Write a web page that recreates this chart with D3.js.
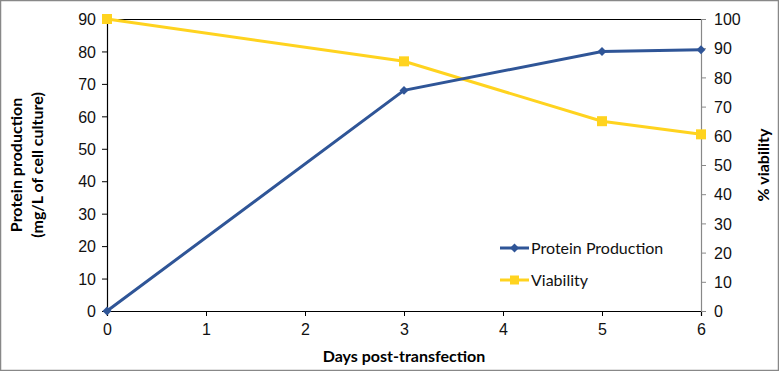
<!DOCTYPE html>
<html>
<head>
<meta charset="utf-8">
<script src="https://cdn.jsdelivr.net/npm/d3@7"></script>
<style>
  body { margin: 0; background: #fff; }
  svg { font-family: Lato, "Open Sans", sans-serif; }
  .tick text { font-size: 16px; fill: #111; }
</style>
</head>
<body>
<svg width="779" height="371"></svg>
<script>
const days = [0, 3, 5, 6];
const protein = [0, 68, 80, 80.5];
const viability = [100, 85.5, 65, 60.5];
const xTicks = [0, 1, 2, 3, 4, 5, 6];
const leftTicks = [0, 10, 20, 30, 40, 50, 60, 70, 80, 90];
const rightTicks = [0, 10, 20, 30, 40, 50, 60, 70, 80, 90, 100];

const svg = d3.select('svg');
const margin = { top: 19, left: 107, right: 78, bottom: 60 };
const width = +svg.attr('width') - margin.left - margin.right;
const height = +svg.attr('height') - margin.top - margin.bottom;

const blue = '#2F5597';
const yellow = '#FFD31F';

// outer border
svg.append('rect')
    .attr('x', 0.5).attr('y', 0.5)
    .attr('width', 778).attr('height', 370)
    .attr('fill', 'none').attr('stroke', '#888').attr('stroke-width', 1.5);

const g = svg.append('g').attr('transform', `translate(${margin.left}, ${margin.top})`);

const x = d3.scaleLinear().domain([0, 6]).range([0, width]);
const yL = d3.scaleLinear().domain([0, 90]).range([height, 0]);
const yR = d3.scaleLinear().domain([0, 100]).range([height, 0]);

// top border of plot area
g.append('line')
    .attr('x1', 0).attr('x2', width).attr('y1', 0.5).attr('y2', 0.5)
    .attr('stroke', '#000');

g.append('g')
    .attr('transform', `translate(0, ${height})`)
    .call(d3.axisBottom(x).tickValues(xTicks).tickFormat(d3.format('d')).tickSize(5).tickPadding(8))
    .call(a => a.selectAll('.domain, .tick line').attr('stroke', '#000'));

g.append('g')
    .call(d3.axisLeft(yL).tickValues(leftTicks).tickSize(5).tickPadding(6))
    .call(a => a.selectAll('.domain, .tick line').attr('stroke', '#000'))
    .call(a => a.selectAll('.tick text').attr('dy', '0.36em'));

g.append('g')
    .attr('transform', `translate(${width}, 0)`)
    .call(d3.axisRight(yR).tickValues(rightTicks).tickSize(5).tickPadding(8))
    .call(a => a.selectAll('.domain, .tick line').attr('stroke', '#888'))
    .call(a => a.selectAll('.tick text').attr('dy', '0.36em'));

g.selectAll('.domain').attr('stroke-width', 1.2);

// axis titles
svg.append('text')
    .attr('x', margin.left + width / 2).attr('y', 362)
    .attr('text-anchor', 'middle')
    .style('font-size', '16px').style('font-weight', 'bold')
    .text('Days post-transfection');

const yt = svg.append('text')
    .attr('transform', `translate(22, ${margin.top + height / 2}) rotate(-90)`)
    .attr('text-anchor', 'middle')
    .style('font-size', '16px').style('font-weight', 'bold');
yt.append('tspan').attr('x', 0).attr('dy', 0).text('Protein production');
yt.append('tspan').attr('x', 0).attr('dy', 21).text('(mg/L of cell culture)');

svg.append('text')
    .attr('transform', `translate(769, ${margin.top + height / 2}) rotate(-90)`)
    .attr('text-anchor', 'middle')
    .style('font-size', '16px').style('font-weight', 'bold')
    .text('% viability');

// series
const pData = days.map((d, i) => ({ d, v: protein[i] }));
const vData = days.map((d, i) => ({ d, v: viability[i] }));

g.append('path')
    .datum(vData)
    .attr('fill', 'none').attr('stroke', yellow).attr('stroke-width', 3)
    .attr('d', d3.line().x(d => x(d.d)).y(d => yR(d.v)));

g.selectAll('.vmark')
    .data(vData).enter().append('rect')
    .attr('x', d => x(d.d) - 5).attr('y', d => yR(d.v) - 5)
    .attr('width', 10).attr('height', 10)
    .attr('fill', yellow);

g.append('path')
    .datum(pData)
    .attr('fill', 'none').attr('stroke', blue).attr('stroke-width', 3)
    .attr('d', d3.line().x(d => x(d.d)).y(d => yL(d.v)));

const diamond = d3.symbol().type(d3.symbolSquare).size(40);
g.selectAll('.pmark')
    .data(pData).enter().append('path')
    .attr('transform', d => `translate(${x(d.d)}, ${yL(d.v)}) rotate(45)`)
    .attr('d', diamond)
    .attr('fill', blue);

// legend
const legend = svg.append('g').attr('transform', 'translate(500, 248)');
const items = [
    { name: 'Protein Production', color: blue, shape: 'diamond' },
    { name: 'Viability', color: yellow, shape: 'square' }
];
items.forEach((it, i) => {
    const row = legend.append('g').attr('transform', `translate(0, ${i * 32})`);
    row.append('line')
        .attr('x1', 0).attr('x2', 29).attr('y1', 0).attr('y2', 0)
        .attr('stroke', it.color).attr('stroke-width', 3);
    if (it.shape === 'diamond') {
        row.append('path').attr('transform', 'translate(14.5, 0) rotate(45)').attr('d', diamond).attr('fill', it.color);
    } else {
        row.append('rect').attr('x', 10).attr('y', -4.5).attr('width', 9).attr('height', 9).attr('fill', it.color);
    }
    row.append('text')
        .attr('x', 31).attr('y', 0).attr('dy', '0.35em')
        .style('font-size', '16px').attr('fill', '#111')
        .text(it.name);
});
</script>
</body>
</html>
